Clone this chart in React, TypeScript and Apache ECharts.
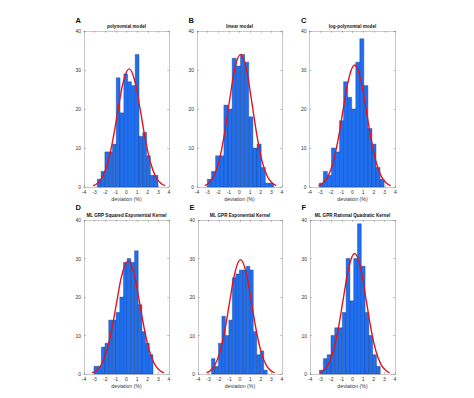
import React, { useEffect, useRef } from "react";
import * as echarts from "echarts";

// ---- data ----
const LETTERS = ["A", "B", "C", "D", "E", "F"];
const TITLES = [
  "polynomial model",
  "linear model",
  "log-polynomial model",
  "ML GRP Squared Exponential Kernel",
  "ML GPR Exponential Kernel",
  "ML GPR Rational Quadratic Kernel",
];
const X_TICKS = [-4, -3, -2, -1, 0, 1, 2, 3, 4];
const Y_TICKS = [0, 10, 20, 30, 40];

// histogram bins: first edge, bin width, counts
const BIN_START = [-2.75, -3.03, -3.09, -3.06, -2.72, -3.1];
const BIN_WIDTH = [0.357, 0.39, 0.377, 0.347, 0.332, 0.357];
const countsA = [2, 4, 9, 9, 11, 28, 19, 29, 27, 26, 34, 13, 14, 8, 3, 3];
const countsB = [2, 4, 8, 8, 21, 20, 33, 31, 34, 32, 18, 10, 11, 5, 1, 1];
const countsC = [1, 4, 3, 10, 9, 17, 27, 23, 20, 32, 38, 26, 15, 11, 5, 2];
const countsD = [2, 2, 7, 8, 14, 14, 16, 20, 29, 30, 29, 32, 18, 11, 8, 5];
const countsE = [4, 2, 8, 15, 10, 14, 25, 26, 27, 27, 28, 27, 11, 5, 6, 1];
const countsF = [1, 4, 5, 10, 12, 12, 16, 30, 19, 30, 39, 28, 16, 10, 5, 2];
const COUNTS = [countsA, countsB, countsC, countsD, countsE, countsF];

// fitted curves, points [x, y]
const curveA = [[-3.15, 0.34], [-2.75, 0.89], [-2.25, 2.62], [-1.75, 6.33], [-1.25, 12.6], [-0.75, 20.5], [-0.25, 27.5], [0.25, 30.3], [0.75, 27.5], [1.25, 20.5], [1.75, 12.6], [2.25, 6.33], [2.75, 2.62], [3.25, 0.89], [3.65, 0.34]];
const curveB = [[-3.26, 0.38], [-2.9, 0.94], [-2.4, 2.82], [-1.9, 6.9], [-1.4, 13.9], [-0.9, 22.8], [-0.4, 30.8], [0.1, 34], [0.6, 30.8], [1.1, 22.8], [1.6, 13.9], [2.1, 6.9], [2.6, 2.82], [3.1, 0.94], [3.46, 0.38]];
const curveC = [[-3.16, 0.35], [-2.8, 0.87], [-2.3, 2.59], [-1.8, 6.35], [-1.3, 12.8], [-0.8, 21.0], [-0.3, 28.3], [0.2, 31.3], [0.7, 28.3], [1.2, 21.0], [1.7, 12.8], [2.2, 6.35], [2.7, 2.59], [3.2, 0.87], [3.56, 0.35]];
const curveD = [[-3.24, 0.33], [-2.85, 0.86], [-2.35, 2.54], [-1.85, 6.12], [-1.35, 12.1], [-0.85, 19.8], [-0.35, 26.6], [0.15, 29.3], [0.65, 26.6], [1.15, 19.8], [1.65, 12.1], [2.15, 6.12], [2.65, 2.54], [3.15, 0.86], [3.54, 0.33]];
const curveE = [[-3.19, 0.33], [-2.95, 0.63], [-2.45, 2.04], [-1.95, 5.35], [-1.45, 11.3], [-0.95, 19.3], [-0.45, 26.7], [0.05, 29.7], [0.55, 26.7], [1.05, 19.3], [1.55, 11.3], [2.05, 5.35], [2.55, 2.04], [3.05, 0.63], [3.29, 0.33]];
const curveF = [[-3.1, 0.35], [-2.8, 0.76], [-2.3, 2.37], [-1.8, 6.0], [-1.3, 12.4], [-0.8, 20.7], [-0.3, 28.2], [0.2, 31.3], [0.7, 28.2], [1.2, 20.7], [1.7, 12.4], [2.2, 6.0], [2.7, 2.37], [3.2, 0.76], [3.5, 0.35]];
const CURVES = [curveA, curveB, curveC, curveD, curveE, curveF];

// ---- layout ----
const GRIDS = [
  { left: 84, top: 31, width: 85, height: 156 },
  { left: 197, top: 31, width: 85, height: 156 },
  { left: 309.5, top: 31, width: 86, height: 156 },
  { left: 84, top: 220, width: 85, height: 154 },
  { left: 198, top: 220, width: 84, height: 154 },
  { left: 310, top: 220, width: 85, height: 154 },
];

const FONT = "Liberation Sans, Arial, sans-serif";
const BAR_FILL = "#1f6ff0";
const BAR_EDGE = "#1b3d7c";
const AXIS_COLOR = "#a5a5a5";

export default function App() {
  const ref = useRef<HTMLDivElement>(null);
  useEffect(() => {
    document.body.style.margin = "0";
    if (!ref.current) return;
    const chart = echarts.init(ref.current, undefined, { renderer: "svg" });

    const grid: any[] = [];
    const xAxis: any[] = [];
    const yAxis: any[] = [];
    const series: any[] = [];
    const title: any[] = [];

    GRIDS.forEach((g, i) => {
      grid.push({ ...g, show: false });
      const common = {
        gridIndex: i,
        splitLine: { show: false },
        axisLine: { show: true, onZero: false, lineStyle: { color: AXIS_COLOR, width: 0.6 } },
        axisTick: { show: true, inside: true, length: 1.8, lineStyle: { color: "#777", width: 0.5 } },
      };
      xAxis.push({
        ...common,
        type: "value",
        min: X_TICKS[0],
        max: X_TICKS[X_TICKS.length - 1],
        interval: 1,
        position: "bottom",
        axisLabel: { fontSize: 5, color: "#333", margin: 2.5, fontFamily: FONT },
        name: "deviation (%)",
        nameLocation: "middle",
        nameGap: 9,
        nameTextStyle: { fontSize: 5.2, color: "#333", fontFamily: FONT },
      });
      xAxis.push({
        ...common,
        type: "value",
        min: X_TICKS[0],
        max: X_TICKS[X_TICKS.length - 1],
        interval: 1,
        position: "top",
        axisLabel: { show: false },
      });
      yAxis.push({
        ...common,
        type: "value",
        min: Y_TICKS[0],
        max: Y_TICKS[Y_TICKS.length - 1],
        interval: 10,
        position: "left",
        axisLabel: { fontSize: 5, color: "#333", margin: 3, fontFamily: FONT },
      });
      yAxis.push({
        ...common,
        type: "value",
        min: Y_TICKS[0],
        max: Y_TICKS[Y_TICKS.length - 1],
        interval: 10,
        position: "right",
        axisLabel: { show: false },
      });

      const bins = COUNTS[i].map((c, k) => [
        BIN_START[i] + k * BIN_WIDTH[i],
        BIN_START[i] + (k + 1) * BIN_WIDTH[i],
        c,
      ]);
      series.push({
        type: "custom",
        xAxisIndex: 2 * i,
        yAxisIndex: 2 * i,
        data: bins,
        encode: { x: [0, 1], y: 2 },
        renderItem: (params: any, api: any) => {
          const p0 = api.coord([api.value(0), api.value(2)]);
          const p1 = api.coord([api.value(1), 0]);
          return {
            type: "rect",
            shape: { x: p0[0], y: p0[1], width: p1[0] - p0[0], height: p1[1] - p0[1] },
            style: { fill: BAR_FILL, stroke: BAR_EDGE, lineWidth: 0.4 },
          };
        },
        z: 2,
      });
      series.push({
        type: "line",
        xAxisIndex: 2 * i,
        yAxisIndex: 2 * i,
        data: CURVES[i],
        smooth: 0.45,
        showSymbol: false,
        lineStyle: { color: "#e3141e", width: 1.4 },
        z: 3,
      });

      const cx = g.left + g.width / 2;
      title.push({
        text: TITLES[i],
        left: cx,
        top: g.top - 7,
        textAlign: "center",
        textStyle: { fontSize: 4.6, fontWeight: "bold", color: "#111", fontFamily: FONT },
        padding: 0,
      });
      title.push({
        text: LETTERS[i],
        left: g.left - 8.5,
        top: i < 3 ? 16 : 203,
        textStyle: { fontSize: 7.5, fontWeight: "bold", color: "#111", fontFamily: FONT },
        padding: 0,
      });
    });

    chart.setOption({
      animation: false,
      backgroundColor: "#ffffff",
      title,
      grid,
      xAxis,
      yAxis,
      series,
    });
    return () => chart.dispose();
  }, []);

  return <div ref={ref} style={{ width: 474, height: 398 }} />;
}
